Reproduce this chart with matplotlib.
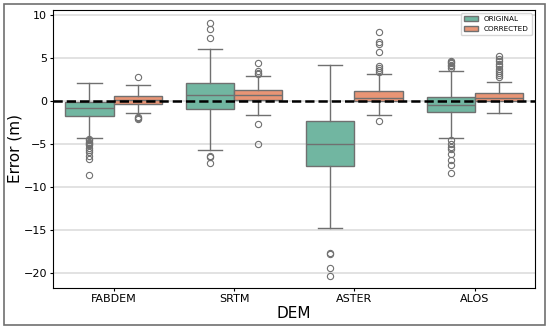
import matplotlib.pyplot as plt
from matplotlib.patches import Patch, Rectangle

# 数据
dems = ['FABDEM', 'SRTM', 'ASTER', 'ALOS']
groups = ['ORIGINAL', 'CORRECTED']

orig_lo = [-4.39, -5.75, -14.85, -4.31]
orig_q1 = [-1.79, -1.0, -7.62, -1.35]
orig_med = [-0.89, 0.63, -5.09, -0.5]
orig_q3 = [-0.1, 2.1, -2.4, 0.47]
orig_hi = [2.03, 6.03, 4.17, 3.5]
orig_fliers = [
    [-4.5, -4.6, -4.75, -4.9, -5.05, -5.2, -5.45, -5.7, -6.0, -6.4, -6.8, -8.6],
    [9.03, 8.33, 7.24, -6.4, -6.5, -7.25],
    [-17.7, -17.85, -19.44, -20.37],
    [4.67, 4.5, 4.35, 4.2, 4.0, 3.8, -4.59, -5.05, -5.36, -5.67, -6.2, -6.84, -7.5, -8.4],
]

corr_lo = [-1.47, -1.63, -1.67, -1.4]
corr_q1 = [-0.38, 0.08, -0.05, 0.02]
corr_med = [0.05, 0.63, 0.28, 0.35]
corr_q3 = [0.55, 1.25, 1.17, 0.86]
corr_hi = [1.8, 2.92, 3.12, 2.15]
corr_fliers = [
    [2.73, -1.87, -2.0, -2.17],
    [4.36, 3.5, 3.27, 3.08, -2.72, -5.09],
    [8.05, 6.8, 6.58, 5.72, 4.05, 3.78, 3.58, 3.38, -2.37],
    [5.25, 4.9, 4.6, 4.3, 4.0, 3.7, 3.45, 3.2, 3.0, 2.8],
]

colors = ['#71b6a1', '#e99575']
line_color = '#707070'


def make_stats(lo, q1, med, q3, hi, fliers):
    return [dict(whislo=a, q1=b, med=c, q3=d, whishi=e, fliers=f)
            for a, b, c, d, e, f in zip(lo, q1, med, q3, hi, fliers)]


fig = plt.figure(figsize=(5.5, 3.29), dpi=100)
ax = fig.add_axes([0.097, 0.125, 0.876, 0.845])

all_stats = [
    make_stats(orig_lo, orig_q1, orig_med, orig_q3, orig_hi, orig_fliers),
    make_stats(corr_lo, corr_q1, corr_med, corr_q3, corr_hi, corr_fliers),
]
offsets = [-0.2, 0.2]

for stats, off, col in zip(all_stats, offsets, colors):
    pos = [i + off for i in range(len(dems))]
    ax.bxp(stats, positions=pos, widths=0.4, capwidths=0.2, patch_artist=True,
           boxprops=dict(facecolor=col, edgecolor=line_color, linewidth=1.0),
           whiskerprops=dict(color=line_color, linewidth=1.0),
           capprops=dict(color=line_color, linewidth=1.0),
           medianprops=dict(color=line_color, linewidth=1.0),
           flierprops=dict(marker='o', markerfacecolor='none', markeredgecolor=line_color,
                           markersize=4.5, markeredgewidth=0.8),
           zorder=2)

ax.axhline(0, color='black', linestyle='--', linewidth=1.8, zorder=5)

ax.set_xticks(range(len(dems)))
ax.set_xticklabels(dems)
ax.set_xlim(-0.5, 3.5)
ax.set_ylim(-21.77, 10.57)
ax.yaxis.grid(True, color='#dddddd', linewidth=1.2, zorder=0)
ax.set_axisbelow(True)
ax.tick_params(labelsize=8, length=2.5, pad=2)
ax.set_xlabel('DEM', fontsize=11, labelpad=1)
ax.set_ylabel('Error (m)', fontsize=11, labelpad=1)

handles = [Patch(facecolor=c, edgecolor=line_color, label=g) for c, g in zip(colors, groups)]
ax.legend(handles=handles, loc='upper right', fontsize=5.2)

# 外边框
fig.patches.append(Rectangle((0.007, 0.012), 0.984, 0.976, transform=fig.transFigure,
                             fill=False, edgecolor='#707070', linewidth=1.2))

fig.savefig('out.png', dpi=100)
